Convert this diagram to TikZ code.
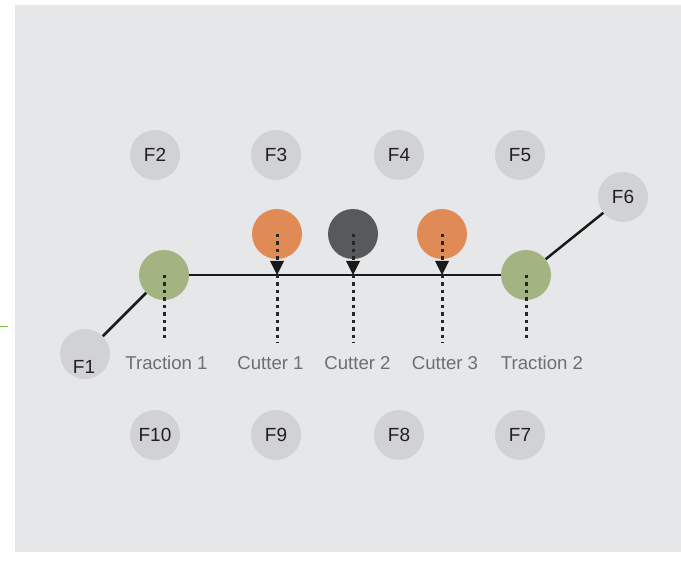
\documentclass[tikz,border=0pt]{standalone}
\usepackage{fontspec}
\setmainfont{Liberation Sans}
\usetikzlibrary{arrows.meta}
\definecolor{bgc}{HTML}{E6E7E8}
\definecolor{fcirc}{HTML}{D1D2D4}
\definecolor{greenc}{HTML}{A3B381}
\definecolor{orangec}{HTML}{E08A55}
\definecolor{darkc}{HTML}{58595B}
\definecolor{labc}{HTML}{6D6E71}
\definecolor{ftext}{HTML}{231F20}
\definecolor{markgreen}{HTML}{7DC242}
\tikzset{
  fnode/.style={circle,fill=fcirc,minimum size=50pt,inner sep=0pt,text=ftext,font=\fontsize{19}{23}\selectfont},
  ball/.style={circle,minimum size=50pt,inner sep=0pt},
  lab/.style={text=labc,font=\fontsize{18.6}{22}\selectfont,inner sep=0pt},
  conn/.style={line width=2.5pt,draw=black!90},
  dots/.style={line width=3pt,draw=black!85,dash pattern=on 3.5pt off 4pt},
}
\begin{document}
\begin{tikzpicture}[x=1pt,y=-1pt]
\useasboundingbox (0,0) rectangle (681,580);
\fill[bgc] (15,5) rectangle (681,552);
\draw[markgreen,line width=1pt] (0,327) coordinate (m1) -- (8,327) coordinate (m2);
% F nodes
\node[fnode] (F2) at (155,155) {F2};
\node[fnode] (F3) at (276,155) {F3};
\node[fnode] (F4) at (399,155) {F4};
\node[fnode] (F5) at (520,155) {F5};
\node[fnode] (F6) at (623,197) {F6};
\node[fnode] (F1) at (85,354) {};
\node[text=ftext,font=\fontsize{19}{23}\selectfont,inner sep=0pt] (F1t) at (84,367) {F1};
\node[fnode] (F10) at (155,435) {F10};
\node[fnode] (F9) at (276,435) {F9};
\node[fnode] (F8) at (399,435) {F8};
\node[fnode] (F7) at (520,435) {F7};
% rollers
\node[ball,fill=greenc] (T1) at (164,275) {};
\node[ball,fill=greenc] (T2) at (526,275) {};
\node[ball,fill=orangec] (C1) at (277,234) {};
\node[ball,fill=darkc] (C2) at (353,234) {};
\node[ball,fill=orangec] (C3) at (442,234) {};
% connectors
\draw[conn] (F1) -- (T1);
\draw[conn] (T1) -- (T2);
\draw[conn] (T2) -- (F6);
% dotted lines
\foreach \n/\x in {C1/277,C2/353,C3/442}{
  \coordinate (\n a) at (\x,275);
  \coordinate (\n b) at (\x,343);
  \draw[dots] (\n.center) -- ([yshift=12pt]\n a);
  \fill[black!90] (\n a) -- ++(-7,-14) -- ++(14,0) -- cycle;
  \draw[dots] (\n a) -- (\n b);
}
\coordinate (T1b) at (164,340);
\coordinate (T2b) at (526,340);
\draw[dots] (T1.center) -- (T1b);
\draw[dots] (T2.center) -- (T2b);
% labels
\node[lab] (L1) at (166.5,363) {Traction 1};
\node[lab] (L2) at (270.5,363) {Cutter 1};
\node[lab] (L3) at (357.5,363) {Cutter 2};
\node[lab] (L4) at (445,363) {Cutter 3};
\node[lab] (L5) at (542,363) {Traction 2};
\end{tikzpicture}
\end{document}
